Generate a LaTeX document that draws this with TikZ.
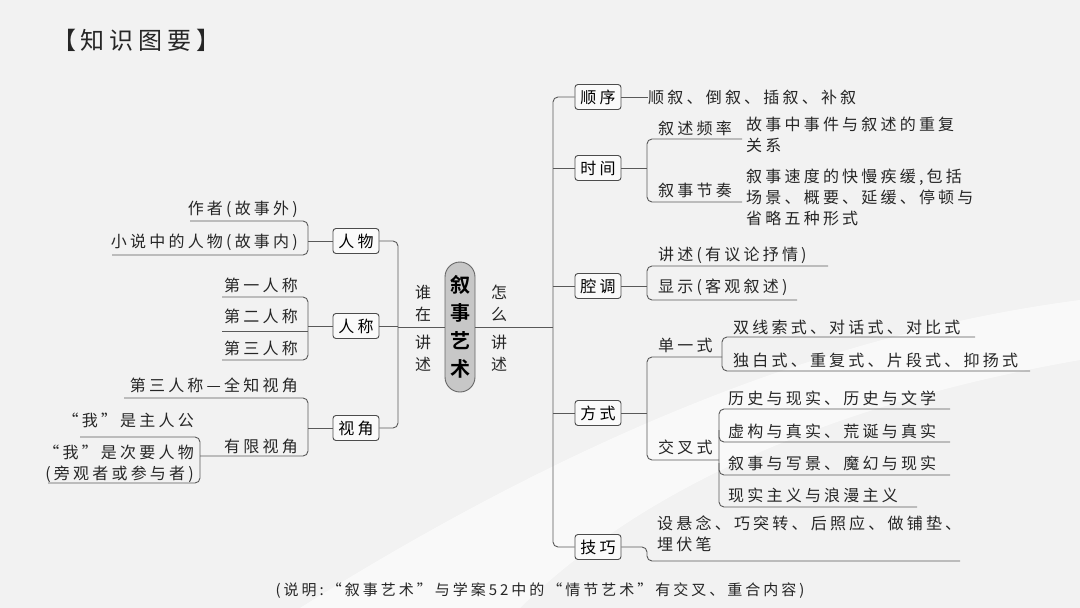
\documentclass[tikz,border=0pt]{standalone}
\usepackage{fontspec}
\setmainfont{Noto Sans CJK SC}[LetterSpace=20]
\newfontfamily\cjkbold{Noto Sans CJK SC Bold}
\usetikzlibrary{positioning}

\tikzset{
  ln/.style={draw=black!65, line width=0.9pt, rounded corners=5pt},
  box/.style={draw=black!70, line width=0.9pt, rounded corners=3pt, fill=white!60!gray!10,
    minimum width=46pt, minimum height=25pt, inner sep=1pt, font=\fontsize{16}{18}\selectfont},
  lf/.style={inner sep=0pt, anchor=west, font=\fontsize{16}{21}\selectfont, align=left, text=black!85},
  rt/.style={lf, anchor=east, align=right},
}

\begin{document}
\begin{tikzpicture}[x=1pt,y=-1pt]
\fill[black!5] (0,0) rectangle (1080,608);
\fill[white, opacity=0.6] (300,608) .. controls (600,420) and (850,330) .. (1080,300) -- (1080,360) .. controls (850,400) and (650,480) .. (520,608) -- cycle;
\useasboundingbox (0,0) rectangle (1080,608);

\node[lf, font=\fontsize{24}{26}\selectfont] (title) at (52,40) {【知识图要】};

% centre
\node[draw=black!60, line width=0.9pt, fill=black!22, rounded corners=15pt, minimum width=30pt,
  minimum height=130pt, inner sep=0pt, align=center, font=\cjkbold\fontsize{20}{28}\selectfont] (core) at (460,327) {叙\\事\\艺\\术};
\node[lf, anchor=center, font=\fontsize{16}{22}\selectfont, align=center] (who) at (423,328) {谁\\在\\[6pt]讲\\述};
\node[lf, anchor=center, font=\fontsize{16}{22}\selectfont, align=center] (how) at (499,328) {怎\\么\\[6pt]讲\\述};

% left boxes
\node[box] (rw) at (356,241) {人物};
\node[box] (rc) at (356,326) {人称};
\node[box] (sj) at (356,428) {视角};
\draw[ln] (rw.east) -- (398,241) -- (398,428) -- (sj.east);
\draw[ln] (rc.east) -- (398,326);
\draw[ln] (core.west) -- (398,327);

% 人物
\node[rt] (zz) at (298,209) {作者(故事外)};
\node[rt] (xs) at (298,242) {小说中的人物(故事内)};
\draw[ln] (190,221) -- (308,221) -- (308,255) -- (112,255);
\draw[ln] (308,241) -- (rw.west);

% 人称
\node[rt] (p1) at (298,285) {第一人称};
\node[rt] (p2) at (298,316) {第二人称};
\node[rt] (p3) at (298,348) {第三人称};
\draw[ln] (222,297) -- (308,297) -- (308,360) -- (222,360);
\draw[ln] (222,331) -- (308,331);
\draw[ln] (308,326) -- (rc.west);

% 视角
\node[rt] (qz) at (298,385) {第三人称—全知视角};
\node[rt] (yx) at (298,446) {有限视角};
\draw[ln] (124,398) -- (308,398) -- (308,456) -- (200,456);
\draw[ln] (308,428) -- (sj.west);
\node[rt] (zr) at (194,420) {“我”是主人公};
\node[rt] (cy) at (194,464) {“我”是次要人物\\(旁观者或参与者)};
\draw[ln] (80,437) -- (200,437) -- (200,483) -- (48,483);

% right boxes
\node[box] (sx) at (598,97) {顺序};
\node[box] (sj2) at (598,168) {时间};
\node[box] (qd) at (598,286) {腔调};
\node[box] (fs) at (598,413) {方式};
\node[box] (jq) at (598,547) {技巧};
\draw[ln] (sx.west) -- (553,97) -- (553,547) -- (jq.west);
\foreach \n in {sj2,qd,fs} \draw[ln] (\n.west) -- (553,0 |- \n.west);
\draw[ln] (core.east) -- (553,327);

% 顺序
\node[lf] (sxt) at (648,97) {顺叙、倒叙、插叙、补叙};
\draw[ln] (sx.east) -- (sxt.west);

% 时间
\node[lf] (pl) at (658,128) {叙述频率};
\node[lf] (jz) at (658,190) {叙事节奏};
\node[lf, anchor=north west] (plt) at (746,117) {故事中事件与叙述的重复\\关系};
\node[lf, anchor=north west] (jzt) at (746,169) {叙事速度的快慢疾缓,包括\\场景、概要、延缓、停顿与\\省略五种形式};
\draw[ln] (742,139) -- (647,139) -- (647,202) -- (742,202);
\draw[ln] (sj2.east) -- (647,168);

% 腔调
\node[lf] (js) at (658,255) {讲述(有议论抒情)};
\node[lf] (xsh) at (658,287) {显示(客观叙述)};
\draw[ln] (828,266) -- (647,266) -- (647,300) -- (797,300);
\draw[ln] (qd.east) -- (647,286);

% 方式
\node[lf] (dy) at (658,345) {单一式};
\node[lf] (jc) at (658,447) {交叉式};
\draw[ln] (722,357) -- (647,357) -- (647,460) -- (719,460);
\draw[ln] (fs.east) -- (647,413);
\node[lf] (d1) at (733,327) {双线索式、对话式、对比式};
\node[lf] (d2) at (733,360) {独白式、重复式、片段式、抑扬式};
\draw[ln] (975,337) -- (722,337) -- (722,371) -- (1030,371);
\node[lf] (c1) at (728,398) {历史与现实、历史与文学};
\node[lf] (c2) at (728,431) {虚构与真实、荒诞与真实};
\node[lf] (c3) at (728,463) {叙事与写景、魔幻与现实};
\node[lf] (c4) at (728,495) {现实主义与浪漫主义};
\draw[ln] (950,409) -- (719,409) -- (719,507) -- (917,507);
\draw[ln] (719,430) -- (719,442) -- (950,442);
\draw[ln] (719,463) -- (719,475) -- (950,475);

% 技巧
\node[lf, anchor=north west] (jqt) at (657,516) {设悬念、巧突转、后照应、做铺垫、\\埋伏笔};
\draw[ln] (jq.east) -- (647,547) -- (647,561) -- (960,561);

% note
\node[lf, anchor=center, font=\fontsize{15}{17}\selectfont] (note) at (540,591) {(说明:“叙事艺术”与学案52中的“情节艺术”有交叉、重合内容)};
\end{tikzpicture}
\end{document}
